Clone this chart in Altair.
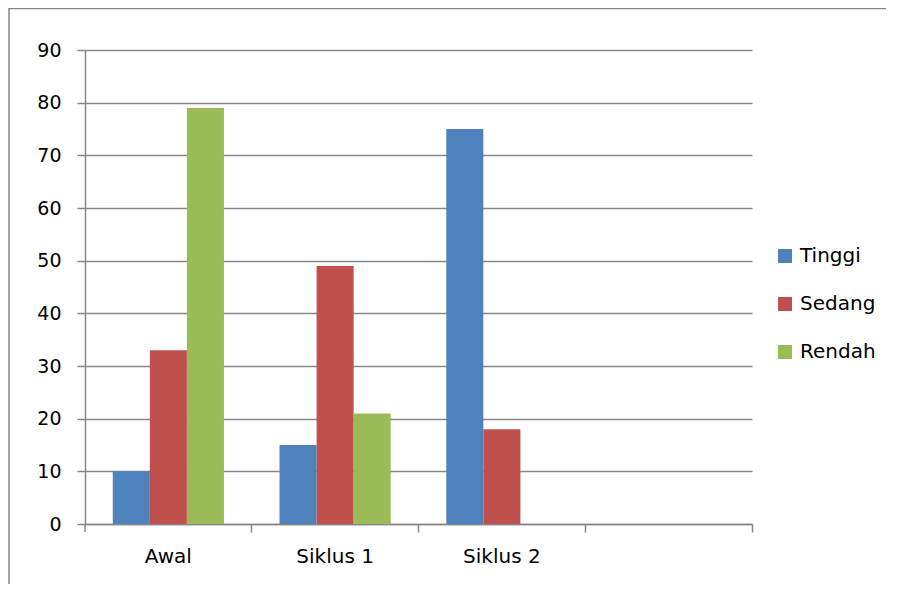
import altair as alt
import pandas as pd

categories = ["Awal", "Siklus 1", "Siklus 2", ""]
series = ["Tinggi", "Sedang", "Rendah"]
tinggi = [10, 15, 75]
sedang = [33, 49, 18]
rendah = [79, 21, None]
colors = ["#4F81BD", "#C0504D", "#9BBB59"]
y_ticks = [0, 10, 20, 30, 40, 50, 60, 70, 80, 90]

rows = []
for name, vals in zip(series, [tinggi, sedang, rendah]):
    for cat, v in zip(categories, vals):
        if v is not None:
            rows.append({"kategori": cat, "seri": name, "nilai": v})
df = pd.DataFrame(rows)

FONT = "DejaVu Sans"
GRAY = "#878787"

bars = alt.Chart(df).mark_bar().encode(
    x=alt.X("kategori:N", sort=categories,
            scale=alt.Scale(domain=categories, paddingInner=1/3, paddingOuter=1/6),
            axis=alt.Axis(title=None, labelAngle=0, bandPosition=1.25,
                          tickSize=8, tickColor=GRAY, tickWidth=1.5,
                          domainColor=GRAY, domainWidth=1.5,
                          labelFont=FONT, labelFontSize=20, labelColor="black",
                          labelPadding=14)),
    xOffset=alt.XOffset("seri:N", sort=series,
                        scale=alt.Scale(domain=series, paddingInner=0, paddingOuter=0)),
    y=alt.Y("nilai:Q", scale=alt.Scale(domain=[0, 90], nice=False),
            axis=alt.Axis(title=None, values=y_ticks, tickSize=8, tickColor=GRAY,
                          tickWidth=1.5, domainColor=GRAY, domainWidth=1.5,
                          grid=True, gridColor=GRAY, gridWidth=1.5,
                          labelFont=FONT, labelFontSize=19, labelColor="black",
                          labelPadding=16)),
    color=alt.Color("seri:N", sort=series,
                    scale=alt.Scale(domain=series, range=colors),
                    legend=alt.Legend(title=None, orient="none", legendX=690, legendY=196,
                                      symbolType="square", symbolSize=196,
                                      symbolStrokeWidth=0, labelFont=FONT,
                                      labelFontSize=20, labelColor="black",
                                      labelOffset=5, rowPadding=28, padding=0)),
)

frame = alt.Chart(pd.DataFrame({"f": [0]})).mark_rect(
    filled=False, stroke=GRAY, strokeWidth=1.5
).encode(x=alt.value(-76), x2=alt.value(1200), y=alt.value(-41.5), y2=alt.value(1200))

origin_tick = alt.Chart(pd.DataFrame({"f": [0]})).mark_rule(
    color=GRAY, strokeWidth=1.5
).encode(x=alt.value(0), y=alt.value(474), y2=alt.value(482))

chart = alt.layer(frame, bars, origin_tick).properties(
    width=667, height=474,
    autosize=alt.AutoSizeParams(type="none"),
    padding={"left": 77, "top": 42, "right": 134, "bottom": 60},
).configure_view(stroke=None)

chart.save("out.html", embed_options={"renderer": "svg", "actions": False})
